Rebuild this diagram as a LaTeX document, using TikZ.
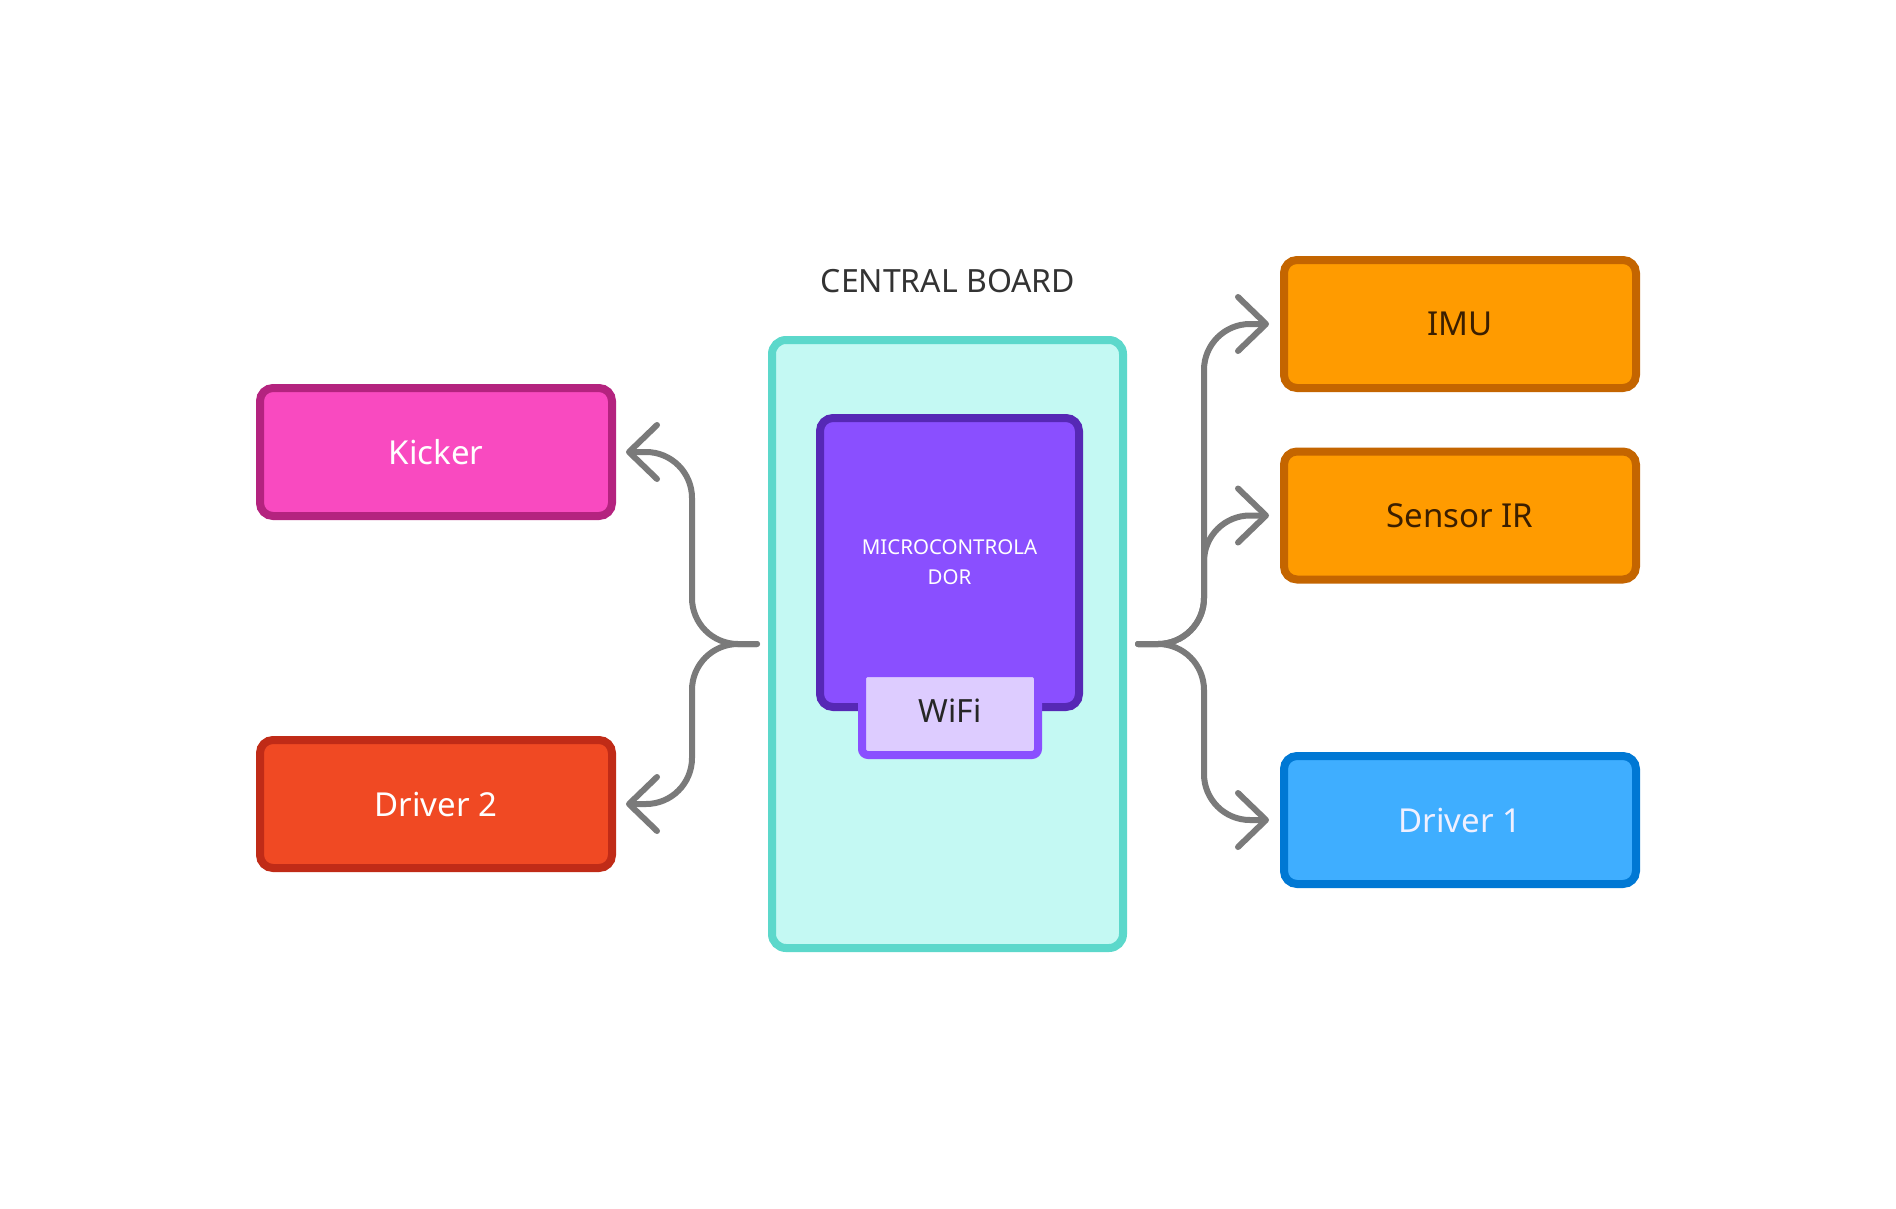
\documentclass[tikz,border=0pt]{standalone}
\usepackage{xcolor}
\usepackage{tikz}
\usepackage{fontspec}
\setmainfont{Noto Sans}
\usetikzlibrary{arrows.meta}

\definecolor{boardfill}{HTML}{C4F9F3}
\definecolor{boardline}{HTML}{5CD8CB}
\definecolor{mcufill}{HTML}{8A4FFF}
\definecolor{mculine}{HTML}{5628B5}
\definecolor{wififill}{HTML}{DDCCFF}
\definecolor{kickfill}{HTML}{F94AC0}
\definecolor{kickline}{HTML}{B4237F}
\definecolor{drvtwofill}{HTML}{F04923}
\definecolor{drvtwoline}{HTML}{C02B17}
\definecolor{sensfill}{HTML}{FF9B00}
\definecolor{sensline}{HTML}{C46500}
\definecolor{drvonefill}{HTML}{3FAEFF}
\definecolor{drvoneline}{HTML}{0078D4}
\definecolor{sensText}{HTML}{3B1F00}
\definecolor{linkgray}{HTML}{7A7A7A}

\begin{document}
\begin{tikzpicture}[x=1pt,y=-1pt,
    module/.style={draw,line width=8pt,rounded corners=13pt,minimum width=352pt,
        minimum height=128pt,inner sep=0pt,outer sep=15pt,font=\fontsize{33}{40}\selectfont},
    link/.style={draw=linkgray,line width=6pt,rounded corners=46pt,line cap=round,
        -{Straight Barb[length=28pt,width=54pt,round]}}]
            % Page
            \useasboundingbox[fill=white] (0,0) rectangle (1896,1208);
            % Central board
            \node (title) at (948,281) [text=black!80,font=\fontsize{32}{38}\selectfont] {CENTRAL BOARD};
            \node (board) at (947.5,644) [draw=boardline,fill=boardfill,line width=8pt,rounded corners=14pt,
                minimum width=351pt,minimum height=608pt] {};
            % Microcontroller with WiFi module
            \node (mcu) at (949.5,562.5) [draw=mculine,fill=mcufill,line width=8pt,rounded corners=13pt,
                minimum width=259pt,minimum height=289pt,text=white,align=center,
                font=\fontsize{20.5}{30}\selectfont] {MICROCONTROLA\\DOR};
            \node (wifi) at (950,714) [draw=mcufill,fill=wififill,line width=8pt,rounded corners=6pt,
                minimum width=176pt,minimum height=82pt,inner sep=0pt,text depth=7pt,text=black!85,
                font=\fontsize{32}{38}\selectfont] {WiFi};
            % Left modules
            \node (kicker) at (436,452) [module,draw=kickline,fill=kickfill,text=white,outer sep=14pt] {Kicker};
            \node (drvtwo) at (436,804) [module,draw=drvtwoline,fill=drvtwofill,text=white,outer sep=14pt] {Driver 2};
            % Right modules
            \node (imu) at (1460,324) [module,draw=sensline,fill=sensfill,text=sensText] {IMU};
            \node (sensir) at (1460,515.5) [module,draw=sensline,fill=sensfill,text=sensText] {Sensor IR};
            \node (drvone) at (1460,820) [module,draw=drvoneline,fill=drvonefill,text=white!94!blue] {Driver 1};
            % Junctions
            \coordinate (jl) at (757,644);
            \coordinate (jr) at (1138,644);
            % Left links
            \draw[link] (jl) -- ++(-65,0) |- (kicker.east);
            \draw[link] (jl) -- ++(-65,0) |- (drvtwo.east);
            % Right links
            \draw[link] (jr) -- ++(66,0) |- (imu.west);
            \draw[link] (jr) -- ++(66,0) |- (sensir.west);
            \draw[link] (jr) -- ++(66,0) |- (drvone.west);
        \end{tikzpicture}
\end{document}
